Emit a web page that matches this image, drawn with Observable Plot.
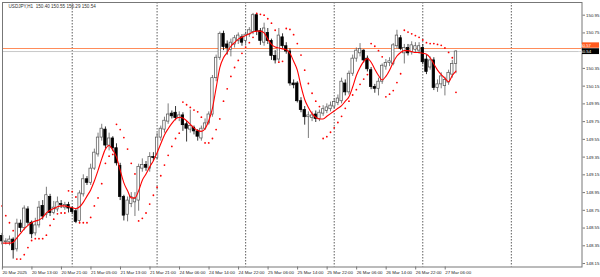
<!DOCTYPE html>
<html><head><meta charset="utf-8">
<script src="https://cdn.jsdelivr.net/npm/d3@7"></script>
<script src="https://cdn.jsdelivr.net/npm/@observablehq/plot@0.6"></script>
<style>body{margin:0;background:#fff} svg{display:block}</style>
</head><body><div id="chart"></div>
<script>
const title = "USDJPY,H1  150.40 150.55 150.29 150.54";

const open = [148.46,148.39,148.39,148.42,148.31,148.60,148.55,148.76,148.61,148.49,
148.58,148.80,148.70,148.90,148.72,148.76,148.82,148.78,148.81,148.77,
148.74,148.63,148.93,149.10,149.06,149.22,149.38,149.57,149.66,149.48,
149.56,149.45,149.25,148.90,148.70,148.82,148.84,148.86,149.22,149.26,
149.22,149.35,149.34,149.57,149.66,149.75,149.84,149.85,149.79,149.82,
149.72,149.66,149.68,149.64,149.56,149.67,149.73,149.83,150.24,150.47,
150.74,150.62,150.56,150.62,150.66,150.70,150.66,150.73,150.76,150.95,
150.77,150.64,150.75,150.66,150.49,150.45,150.70,150.60,150.54,150.18,
150.18,149.98,149.88,149.80,149.79,149.83,149.78,149.84,149.87,149.89,
149.92,149.96,149.98,150.18,150.08,150.29,150.46,150.52,150.55,150.46,
150.33,150.14,150.12,150.20,150.37,150.41,150.40,150.60,150.69,150.52,
150.58,150.53,150.56,150.55,150.58,150.45,150.36,150.44,150.13,150.17,
150.15,150.19,150.28,150.40];

const high = [148.49,148.43,148.46,148.44,148.65,148.64,148.80,148.79,148.63,148.66,
148.85,148.86,149.01,148.93,148.85,148.90,148.86,148.84,148.84,148.79,
148.76,148.97,149.15,149.13,149.27,149.44,149.62,149.72,149.69,149.62,
149.58,149.50,149.28,148.92,148.90,148.95,148.95,149.27,149.33,149.30,
149.40,149.40,149.62,149.70,149.80,149.95,149.87,149.92,149.86,149.85,
149.75,149.88,149.70,149.66,149.70,149.78,149.86,150.27,150.50,150.76,
150.77,150.66,150.68,150.72,150.75,150.73,150.76,150.81,150.97,150.97,
150.80,150.86,150.80,150.68,150.55,150.80,150.74,150.64,150.57,150.22,
150.20,150.02,149.92,149.86,149.86,149.87,149.88,149.93,149.95,149.97,
150.01,150.05,150.24,150.22,150.32,150.50,150.58,150.63,150.56,150.49,
150.36,150.17,150.24,150.40,150.45,150.47,150.63,150.78,150.72,150.62,
150.62,150.65,150.64,150.64,150.62,150.50,150.48,150.47,150.22,150.30,
150.25,150.33,150.44,150.55];

const low = [148.36,148.36,148.35,148.20,148.28,148.50,148.52,148.58,148.43,148.46,
148.55,148.64,148.66,148.68,148.70,148.73,148.77,148.75,148.72,148.70,
148.60,148.60,148.90,149.03,149.03,149.20,149.35,149.53,149.44,149.42,
149.41,149.25,148.86,148.63,148.62,148.78,148.68,148.74,149.18,149.19,
149.18,149.30,149.32,149.53,149.62,149.72,149.78,149.76,149.75,149.64,
149.52,149.62,149.60,149.53,149.53,149.65,149.71,149.80,150.20,150.44,
150.55,150.50,150.48,150.58,150.62,150.60,150.62,150.70,150.73,150.72,
150.61,150.60,150.62,150.44,150.40,150.42,150.57,150.51,150.15,150.12,
149.96,149.85,149.71,149.56,149.75,149.74,149.75,149.81,149.84,149.86,
149.89,149.93,149.95,150.04,150.05,150.26,150.42,150.48,150.41,150.31,
150.11,150.07,150.04,150.17,150.33,150.37,150.38,150.57,150.55,150.40,
150.49,150.50,150.52,150.51,150.39,150.28,150.33,150.10,150.08,150.12,
150.04,150.16,150.24,150.29];

const close = [148.40,148.40,148.42,148.30,148.60,148.55,148.77,148.61,148.48,148.58,
148.78,148.68,148.92,148.72,148.78,148.84,148.81,148.81,148.77,148.73,
148.62,148.94,149.10,149.06,149.22,149.40,149.57,149.67,149.48,149.56,
149.45,149.28,148.90,148.69,148.86,148.90,148.88,149.24,149.26,149.23,
149.35,149.34,149.57,149.67,149.76,149.83,149.81,149.79,149.82,149.71,
149.67,149.70,149.64,149.58,149.67,149.73,149.83,150.24,150.47,150.74,
150.59,150.58,150.64,150.69,150.72,150.64,150.73,150.78,150.95,150.77,
150.66,150.80,150.66,150.49,150.44,150.72,150.60,150.54,150.18,150.16,
149.98,149.88,149.80,149.82,149.82,149.78,149.85,149.89,149.91,149.93,
149.97,150.01,150.20,150.08,150.29,150.46,150.55,150.57,150.44,150.34,
150.14,150.12,150.20,150.38,150.41,150.43,150.61,150.72,150.57,150.58,
150.52,150.61,150.60,150.60,150.42,150.31,150.44,150.13,150.17,150.26,
150.22,150.30,150.40,150.54];

const ma = [148.38,148.38,148.38,148.39,148.44,148.49,148.54,148.58,148.61,148.63,
148.64,148.67,148.72,148.75,148.77,148.79,148.80,148.80,148.79,148.78,
148.77,148.79,148.84,148.91,148.98,149.08,149.20,149.33,149.44,149.48,
149.43,149.35,149.20,149.06,148.97,148.89,148.89,148.97,149.09,149.16,
149.24,149.31,149.40,149.50,149.60,149.67,149.73,149.78,149.80,149.79,
149.76,149.72,149.68,149.65,149.64,149.67,149.76,149.90,150.13,150.36,
150.47,150.53,150.60,150.64,150.68,150.70,150.72,150.74,150.76,150.77,
150.77,150.75,150.68,150.62,150.59,150.58,150.57,150.56,150.52,150.43,
150.33,150.15,150.00,149.91,149.84,149.80,149.78,149.78,149.81,149.84,
149.87,149.90,149.93,149.98,150.03,150.14,150.27,150.36,150.43,150.46,
150.42,150.34,150.27,150.22,150.26,150.33,150.42,150.49,150.53,150.55,
150.55,150.54,150.53,150.53,150.52,150.51,150.47,150.40,150.33,150.28,
150.24,150.20,150.27,150.32];

const sar = [148.80,148.69,148.61,148.52,148.20,148.20,148.25,148.33,148.41,148.43,
148.43,148.43,148.47,148.58,148.65,148.71,148.72,148.72,148.97,148.96,
148.90,148.61,148.61,148.61,148.67,148.80,148.89,149.05,149.28,149.36,
149.38,149.72,149.66,149.57,149.44,149.28,149.16,148.63,148.66,148.72,
148.82,148.92,149.01,149.14,149.26,149.37,149.47,149.56,149.62,149.97,
149.94,149.91,149.88,149.86,149.80,149.51,149.51,149.56,149.66,149.78,
149.98,150.12,150.26,150.36,150.44,150.52,150.59,150.64,150.70,150.97,
150.96,150.95,150.91,150.86,150.78,150.42,150.43,150.80,150.79,150.73,
150.63,150.50,150.33,150.18,150.07,149.98,149.92,149.56,149.58,149.63,
149.68,149.74,149.81,149.90,149.98,150.05,150.11,150.17,150.23,150.28,
150.63,150.60,150.55,150.48,150.03,150.06,150.10,150.19,150.29,150.78,
150.76,150.74,150.72,150.70,150.67,150.64,150.63,150.63,150.62,150.61,
150.58,150.53,150.47,150.08];

const timeTickIndex = [0,8,16,24,32,40,48,56,64,72,80,88,96,104,112,120];
const timeTickLabels = ["20 Mar 2025","20 Mar 13:00","20 Mar 21:00","21 Mar 05:00","21 Mar 13:00","21 Mar 21:00","24 Mar 06:00","24 Mar 14:00","24 Mar 22:00","25 Mar 06:00","25 Mar 14:00","25 Mar 22:00","26 Mar 06:00","26 Mar 14:00","26 Mar 22:00","27 Mar 06:00"];
const priceTicks = [148.15,148.35,148.55,148.75,148.95,149.15,149.35,149.55,149.75,149.95,150.15,150.35,150.75,150.95];
const daySeparators = [19,42,66,90,114,138];
const markerPrice = 150.575;
const markerLabel = "150.57";
const bidPrice = 150.54;
const bidLabel = "150.54";

const bars = open.map((o, i) => ({i, open: o, high: high[i], low: low[i], close: close[i], ma: ma[i], sar: sar[i], up: close[i] >= o}));
const labelByIndex = new Map(timeTickIndex.map((t, k) => [t, timeTickLabels[k]]));

const plot = Plot.plot({
  width: 600, height: 277,
  marginLeft: 2, marginRight: 18.5, marginTop: 2, marginBottom: 10.5,
  x: {domain: [0.108, 157.15]},
  y: {domain: [148.111, 151.093]},
  style: {fontFamily: "'Liberation Sans', Arial, sans-serif", fontSize: "4.4px", color: "#222", background: "#fff"},
  marks: [
    Plot.ruleX(daySeparators, {stroke: "#333", strokeDasharray: "1.5,1.5", strokeWidth: 0.8}),
    Plot.ruleY([bidPrice], {stroke: "#c8c8c8", strokeWidth: 1}),
    Plot.ruleY([markerPrice], {stroke: "#ff8c5a", strokeWidth: 1.1}),
    Plot.ruleX(bars, {x: "i", y1: "low", y2: "high", stroke: d => d.up ? "#5a5a5a" : "#000000", strokeWidth: 0.8}),
    Plot.rect(bars, {x1: d => d.i - 0.33, x2: d => d.i + 0.33, y1: "open", y2: "close",
      fill: d => d.up ? "#ffffff" : "#000000", stroke: d => d.up ? "#5a5a5a" : "#000000", strokeWidth: 0.75}),
    Plot.line(bars, {x: "i", y: "ma", stroke: "#ff0000", strokeWidth: 1.1, curve: "monotone-x"}),
    Plot.dot(bars, {x: "i", y: "sar", r: 0.9, fill: "#ff0000", stroke: "none"}),
    Plot.frame({stroke: "#777"}),
    Plot.axisY(priceTicks, {anchor: "right", label: null, tickSize: 2.5, tickPadding: 1.5, tickFormat: d3.format(".2f"), stroke: "#777"}),
    Plot.axisX(timeTickIndex, {anchor: "bottom", label: null, tickSize: 3, tickPadding: 1, tickFormat: d => labelByIndex.get(d), textAnchor: "start", dx: 0.3, stroke: "#777"}),
    Plot.text([title], {frameAnchor: "top-left", text: d => d, dx: 6, dy: 2.2, textAnchor: "start", lineAnchor: "top", fill: "#333", fontSize: 4.6})
  ]
});

document.getElementById("chart").appendChild(plot);

const svg = d3.select(plot);
const ys = plot.scale("y");
const gx = 582;
// orange marker label sits just above the black bid label
const yMarker = ys.apply(markerPrice);
const yBid = ys.apply(bidPrice);
svg.append("rect").attr("x", gx).attr("y", yMarker - 5.6).attr("width", 17).attr("height", 5.4).attr("fill", "#ff5a1e");
svg.append("text").attr("x", gx + 2.5).attr("y", yMarker - 2.9).attr("dy", "0.35em")
  .attr("fill", "#fff").attr("font-size", 4.2).attr("font-family", "'Liberation Sans', Arial, sans-serif").text(markerLabel);
svg.append("rect").attr("x", gx).attr("y", yBid - 2.8).attr("width", 17).attr("height", 5.8).attr("fill", "#000");
svg.append("text").attr("x", gx + 2.5).attr("y", yBid + 0.1).attr("dy", "0.35em")
  .attr("fill", "#fff").attr("font-size", 4.4).attr("font-family", "'Liberation Sans', Arial, sans-serif").text(bidLabel);
</script>
</body></html>
